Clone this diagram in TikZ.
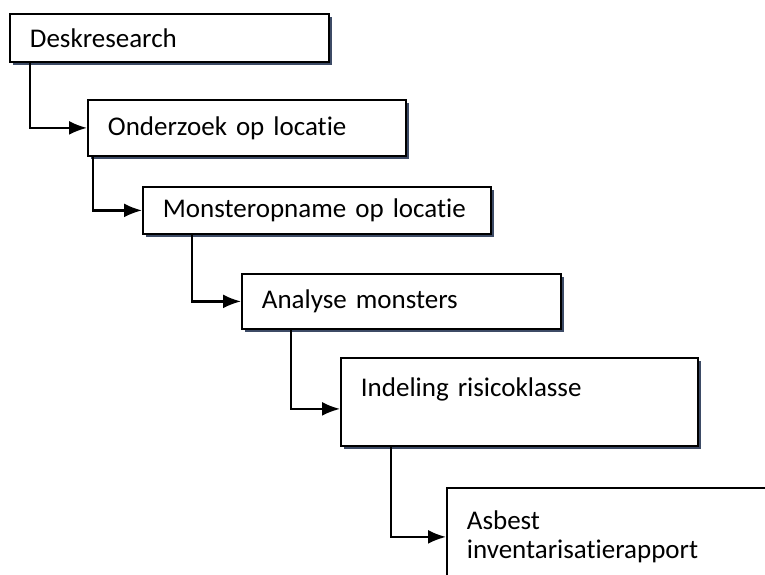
\documentclass[tikz,border=0pt]{standalone}
\usepackage{fontspec}
\setmainfont{Carlito}[Ligatures={NoCommon}]
\usetikzlibrary{arrows.meta,shadows}
\definecolor{schaduw}{RGB}{40,55,85}

\begin{document}
\begin{tikzpicture}[x=1pt,y=-1pt,
stap/.style={rectangle,draw,line width=1.8pt,fill=white,anchor=north west,
inner xsep=20pt,align=left,font=\fontsize{27}{29}\selectfont,
drop shadow={shadow xshift=3pt,shadow yshift=-3pt,fill=schaduw,opacity=0.9}},
pijl/.style={line width=2.2pt,-{Latex[length=18pt,width=14pt]}}]
\clip (0,0) rectangle (765,574);
\node[stap,text width=279pt,minimum height=48pt](desk) at (9,13) {Deskresearch};
\node[stap,text width=278pt,minimum height=56pt](onderzoek) at (87,99) {Onderzoek op locatie};
\node[stap,text width=308pt,minimum height=47pt](monster) at (142,186) {Monsteropname op locatie};
\node[stap,text width=279pt,minimum height=55pt](analyse) at (241,273) {Analyse monsters};
\node[stap,text width=317pt,minimum height=88pt](indeling) at (340,357) {Indeling risicoklasse\\ \mbox{}};
\node[stap,text width=300pt,minimum height=98pt](rapport) at (446,487) {Asbest\\inventarisatierapport};
\draw[pijl] ([xshift=21pt]desk.south west) |- (onderzoek.west);
\draw[pijl] ([xshift=6pt]onderzoek.south west) |- (monster.west);
\draw[pijl] ([xshift=50pt]monster.south west) |- (analyse.west);
\draw[pijl] ([xshift=50pt]analyse.south west) |- ([yshift=-7pt]indeling.west);
\draw[pijl] ([xshift=51pt]indeling.south west) |- (rapport.west);
\end{tikzpicture}
\end{document}
